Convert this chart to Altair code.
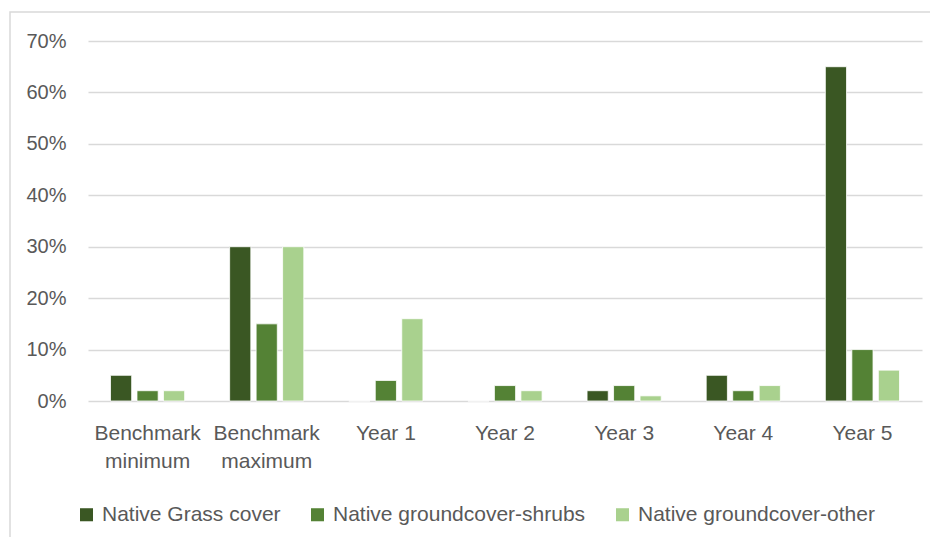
import altair as alt
import pandas as pd

categories = ["Benchmark minimum", "Benchmark maximum", "Year 1", "Year 2", "Year 3", "Year 4", "Year 5"]
series = ["Native Grass cover", "Native groundcover-shrubs", "Native groundcover-other"]
grass = [5, 30, 0, 0, 2, 5, 65]
shrubs = [2, 15, 4, 3, 3, 2, 10]
other = [2, 30, 16, 2, 1, 3, 6]
colors = ["#3A5723", "#548235", "#A9D18E"]
y_ticks = [0, 10, 20, 30, 40, 50, 60, 70]

rows = []
for i, c in enumerate(categories):
    for s, vals in zip(series, [grass, shrubs, other]):
        rows.append({"category": c, "series": s, "value": vals[i]})
df = pd.DataFrame(rows)

FONT = "Liberation Sans"
TXT = "#595959"

bars = alt.Chart(df).mark_bar(stroke="white", strokeWidth=0.8).encode(
    x=alt.X("category:N", sort=categories, title=None,
            scale=alt.Scale(paddingInner=0.333, paddingOuter=0.1665),
            axis=alt.Axis(labelAngle=0, ticks=False, domain=False, labelPadding=21,
                          labelFontSize=21, labelColor=TXT, labelFont=FONT,
                          labelLineHeight=28, labelLimit=200,
                          labelExpr="indexof(datum.label, 'Benchmark') == 0 ? split(datum.label, ' ') : datum.label")),
    xOffset=alt.XOffset("series:N", sort=series,
                        scale=alt.Scale(paddingInner=0.2, paddingOuter=0.1)),
    y=alt.Y("value:Q", title=None,
            scale=alt.Scale(domain=[0, 70], nice=False),
            axis=alt.Axis(values=y_ticks, ticks=False, domain=False, labelPadding=22,
                          labelFontSize=20, labelColor=TXT, labelFont=FONT,
                          gridColor="#D9D9D9", gridWidth=1.5,
                          labelExpr="datum.value + '%'")),
    color=alt.Color("series:N", sort=series, title=None,
                    scale=alt.Scale(domain=series, range=colors),
                    legend=alt.Legend(orient="none", legendX=-12, legendY=463,
                                      direction="horizontal", columns=3,
                                      symbolType="square", symbolSize=170,
                                      symbolStrokeWidth=0, labelFontSize=21,
                                      labelFont=FONT, labelColor=TXT,
                                      labelLimit=400, columnPadding=26,
                                      labelOffset=5, padding=0)),
)

border = alt.Chart(pd.DataFrame({"a": [0]})).mark_rect(
    fill=None, stroke="#D9D9D9", strokeWidth=1.5, clip=False
).encode(x=alt.value(-78), x2=alt.value(900), y=alt.value(-29), y2=alt.value(560))

chart = alt.layer(border, bars).properties(
    width=834, height=360,
    autosize=alt.AutoSizeParams(type="none"),
    padding={"left": 80, "top": 33, "right": 8, "bottom": 136},
).configure_view(stroke=None)

chart.save("out.html", embed_options={"renderer": "svg", "actions": False})
